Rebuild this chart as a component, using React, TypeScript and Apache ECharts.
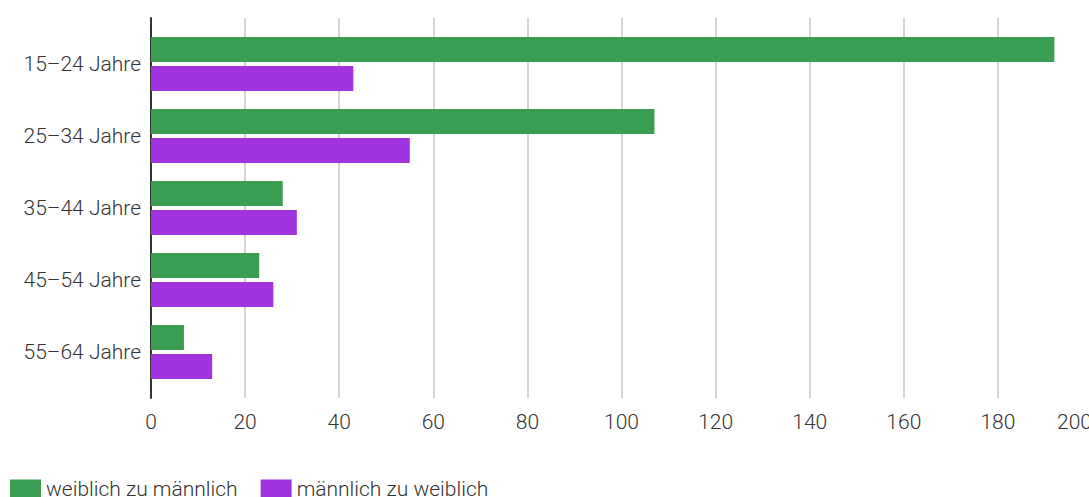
import React, { useEffect, useRef } from "react";
import * as echarts from "echarts";

const categories = ["15–24 Jahre", "25–34 Jahre", "35–44 Jahre", "45–54 Jahre", "55–64 Jahre"];
const seriesNames = ["weiblich zu männlich", "männlich zu weiblich"];
const femaleToMale = [192, 107, 28, 23, 7];
const maleToFemale = [43, 55, 31, 26, 13];
const xTicks = { min: 0, max: 200, interval: 20 };

const GREEN = "#399D52";
const PURPLE = "#A133DE";
const TEXT = "#333333";
const FONT = "Roboto";
const FS = 21;
const FW = 300;

export default function App() {
  const ref = useRef<HTMLDivElement>(null);
  useEffect(() => {
    if (!ref.current) return;
    const chart = echarts.init(ref.current, null, { renderer: "svg" });
    chart.setOption({
      animation: false,
      textStyle: { fontFamily: FONT },
      grid: [
        { left: 151, right: -3, top: 18, bottom: 99, containLabel: false, outerBoundsMode: "none" },
        { left: 151, right: -3, top: 28, bottom: 109, containLabel: false, outerBoundsMode: "none" },
      ],
      legend: {
        left: 10,
        top: 478,
        padding: 0,
        itemWidth: 31,
        itemHeight: 18,
        itemGap: 23,
        icon: "rect",
        textStyle: { fontSize: FS, fontWeight: FW, color: TEXT, fontFamily: FONT, lineHeight: 18 },
        data: seriesNames,
      },
      xAxis: [
        {
          type: "value",
          gridIndex: 0,
          min: xTicks.min,
          max: xTicks.max,
          interval: xTicks.interval,
          axisLine: { show: false },
          axisTick: { show: false },
          axisLabel: {
            fontSize: FS,
            fontWeight: FW,
            color: TEXT,
            margin: 13,
            fontFamily: FONT,
            showMaxLabel: true,
            alignMaxLabel: "right",
          },
          splitLine: { show: true, lineStyle: { color: "#d4d4d4", width: 2 } },
        },
        {
          type: "value",
          gridIndex: 1,
          min: xTicks.min,
          max: xTicks.max,
          interval: xTicks.interval,
          show: false,
        },
      ],
      yAxis: [
        {
          type: "category",
          gridIndex: 0,
          data: categories,
          inverse: true,
          axisLine: { show: true, lineStyle: { color: TEXT, width: 2 } },
          axisTick: { show: false },
          axisLabel: { show: false },
          splitLine: { show: false },
        },
        {
          type: "category",
          gridIndex: 1,
          data: categories,
          inverse: true,
          axisLine: { show: false },
          axisTick: { show: false },
          axisLabel: { fontSize: FS, fontWeight: FW, color: TEXT, margin: 10, fontFamily: FONT },
          splitLine: { show: false },
        },
      ],
      series: [
        {
          name: seriesNames[0],
          type: "bar",
          xAxisIndex: 1,
          yAxisIndex: 1,
          data: femaleToMale,
          barWidth: 25,
          barGap: "16%",
          itemStyle: { color: GREEN },
        },
        {
          name: seriesNames[1],
          type: "bar",
          xAxisIndex: 1,
          yAxisIndex: 1,
          data: maleToFemale,
          barWidth: 25,
          barGap: "16%",
          itemStyle: { color: PURPLE },
        },
      ],
    });
    return () => chart.dispose();
  }, []);
  return (
    <div
      ref={ref}
      style={{ position: "absolute", left: 0, top: 0, width: 1089, height: 497 }}
    />
  );
}
